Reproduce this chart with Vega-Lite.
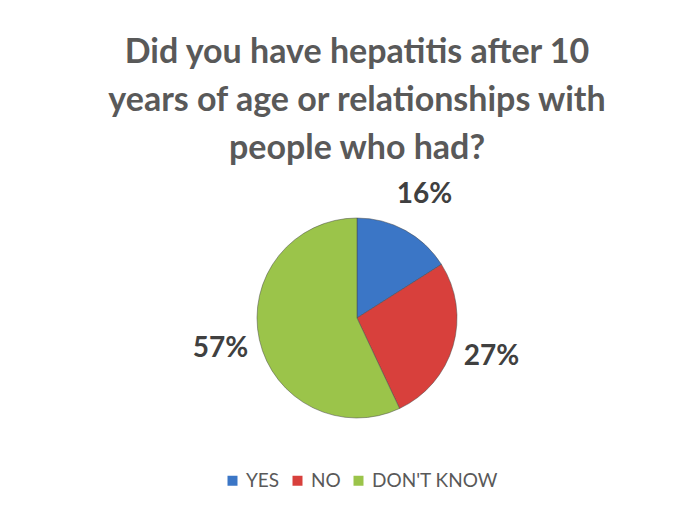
{
  "$schema": "https://vega.github.io/schema/vega-lite/v6.json",
  "width": 600,
  "height": 300,
  "autosize": {"type": "none"},
  "padding": {"left": 57, "top": 168, "right": 36, "bottom": 42},
  "background": "white",
  "title": {
    "text": ["Did you have hepatitis after 10", "years of age or relationships with", "people who had?"],
    "font": "Lato",
    "fontSize": 34,
    "fontWeight": "bold",
    "color": "#595959",
    "lineHeight": 48,
    "anchor": "middle",
    "offset": 2
  },
  "data": {
    "values": [
      {"answer": "YES", "pct": 16, "rank": 1, "label": "16%"},
      {"answer": "NO", "pct": 27, "rank": 2, "label": "27%"},
      {"answer": "DON'T KNOW", "pct": 57, "rank": 3, "label": "57%"}
    ]
  },
  "encoding": {
    "theta": {"field": "pct", "type": "quantitative", "stack": true},
    "order": {"field": "rank", "type": "quantitative"},
    "color": {
      "field": "answer",
      "type": "nominal",
      "scale": {"domain": ["YES", "NO", "DON'T KNOW"], "range": ["#3B76C6", "#D8403C", "#9BC44A"]},
      "legend": {
        "title": null,
        "orient": "none",
        "legendX": 166,
        "legendY": 303,
        "direction": "horizontal",
        "symbolType": "square",
        "symbolSize": 100,
        "symbolStrokeWidth": 0,
        "labelFont": "Lato",
        "labelFontSize": 19,
        "labelColor": "#595959",
        "labelOffset": 4,
        "columnPadding": 8
      }
    }
  },
  "layer": [
    {
      "mark": {"type": "arc", "radius": 100, "stroke": "#4a4a4a", "strokeOpacity": 0.5, "strokeWidth": 1}
    },
    {
      "mark": {"type": "text", "radius": 140, "font": "Lato", "fontSize": 28, "fontWeight": "bold"},
      "encoding": {"text": {"field": "label"}, "color": {"value": "#404040"}}
    }
  ]
}
